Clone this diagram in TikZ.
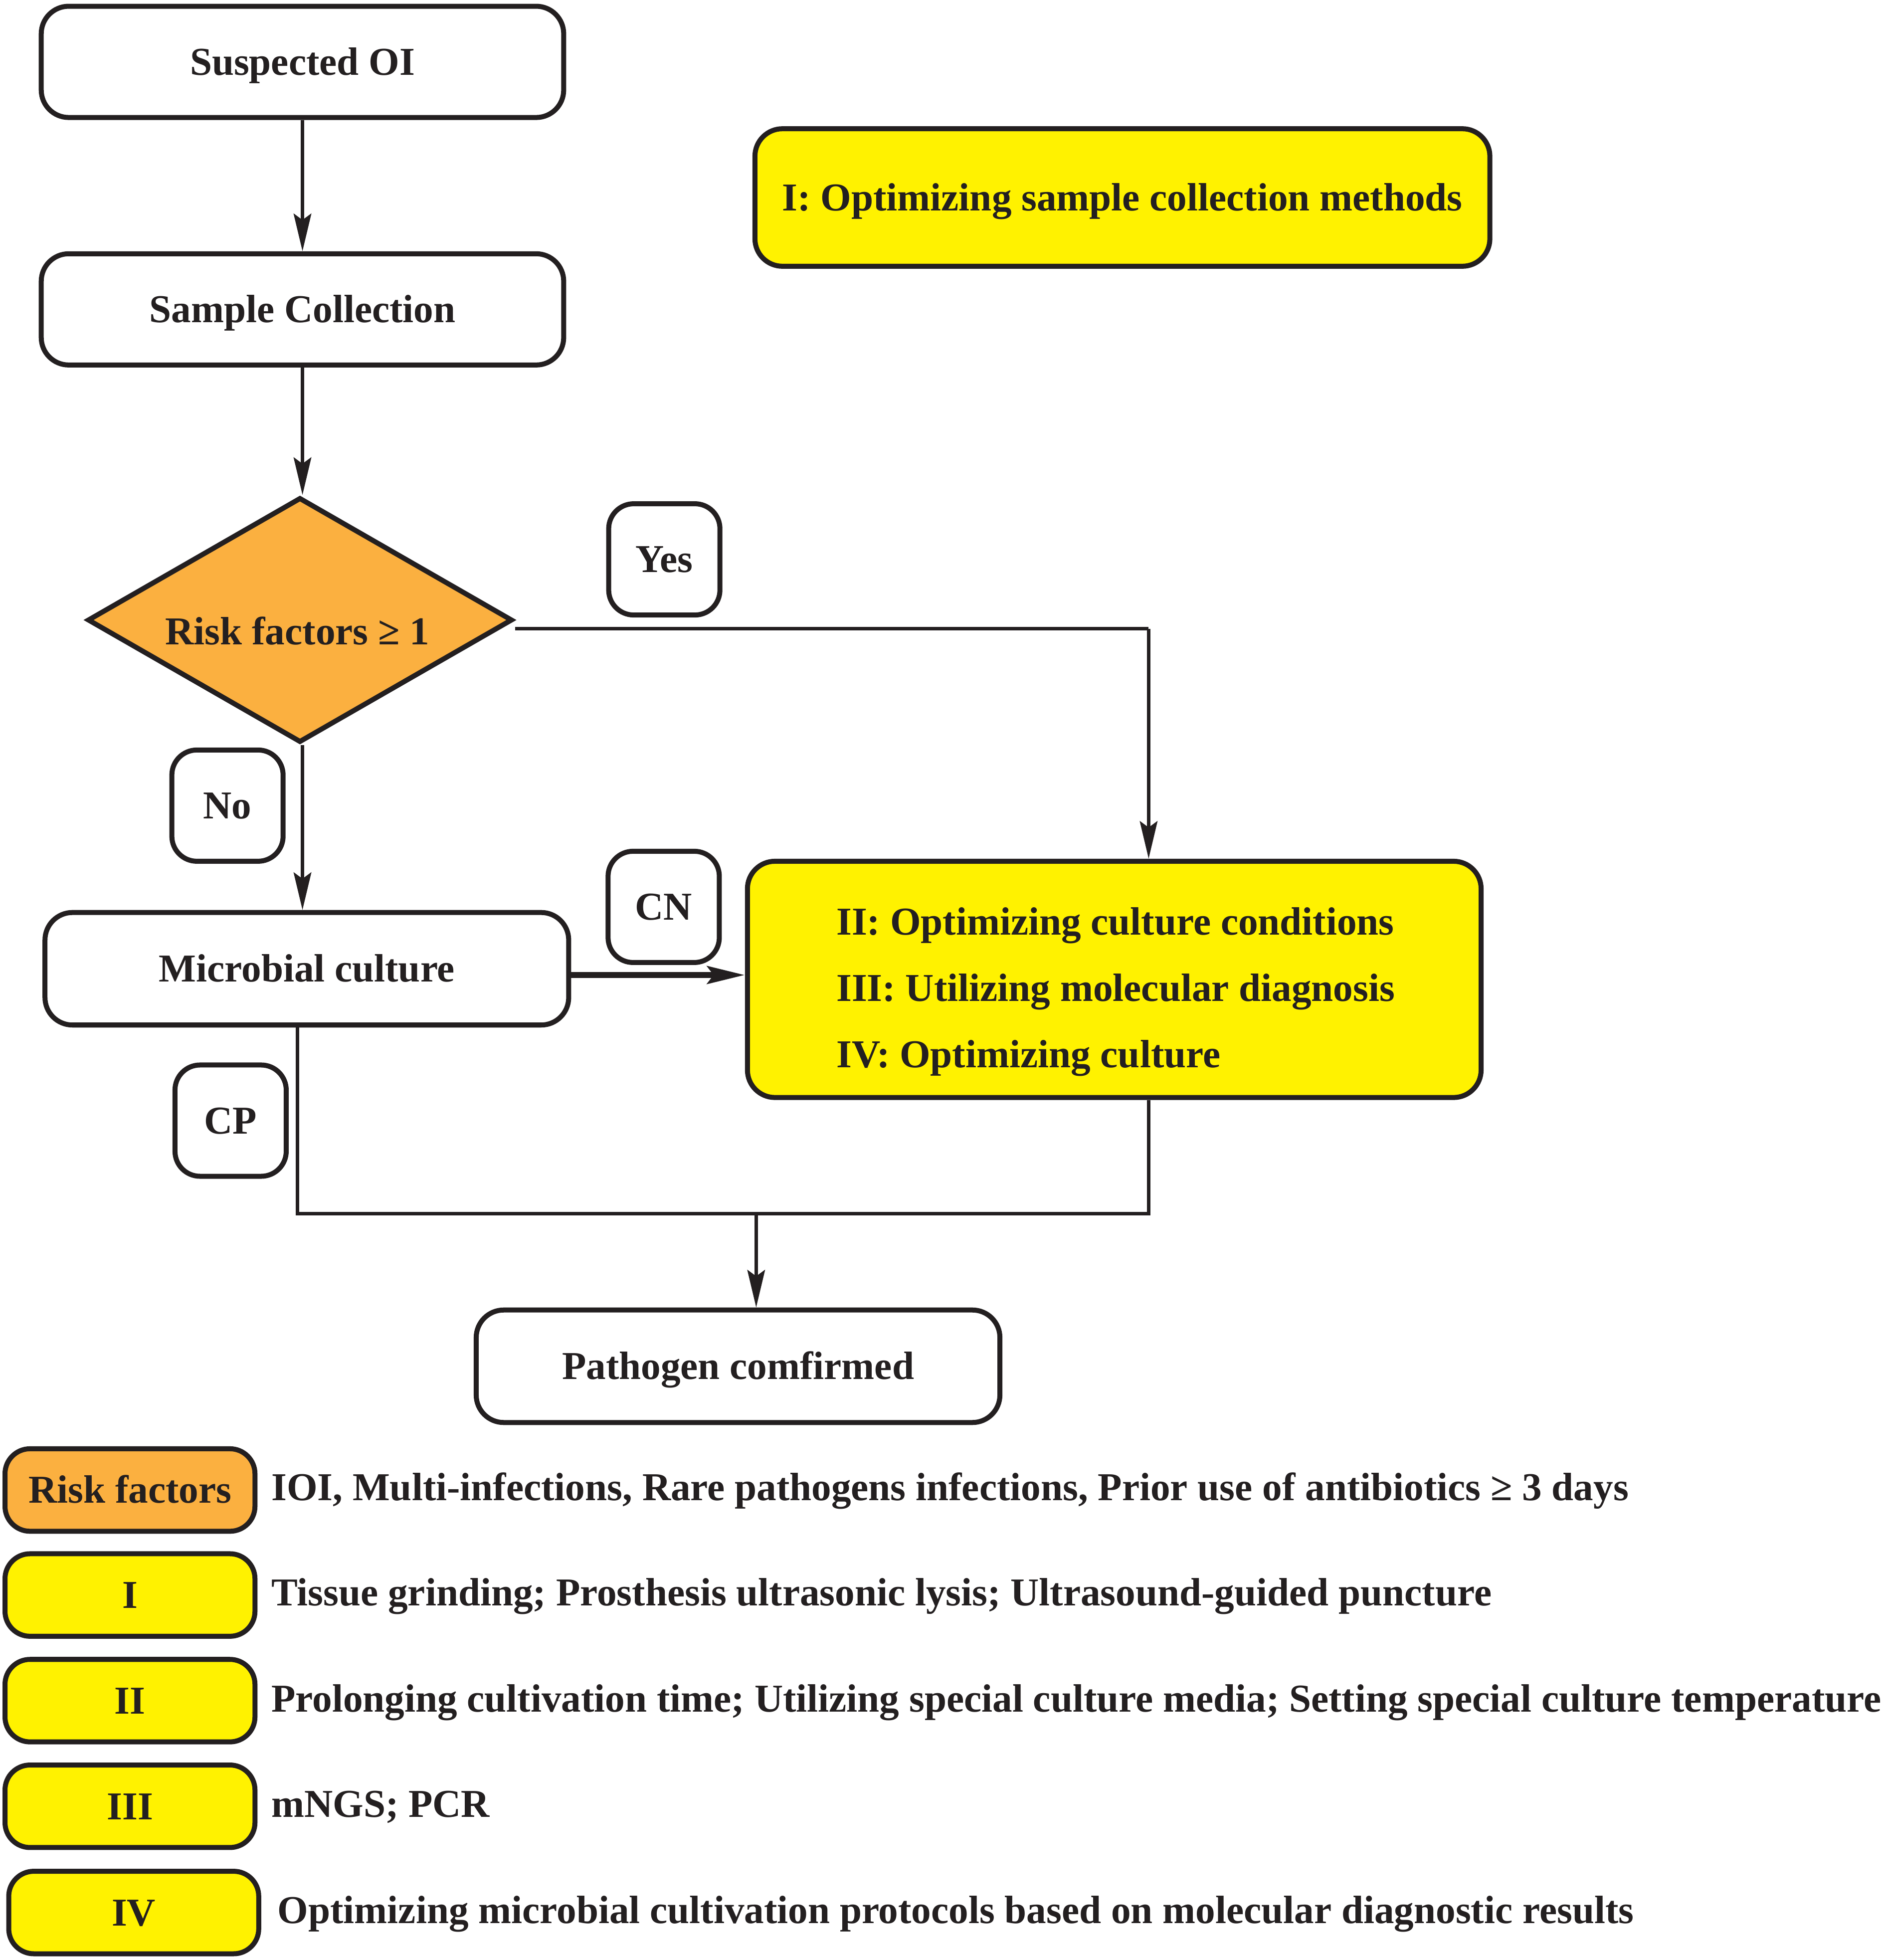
\documentclass[tikz,border=0pt]{standalone}
\usepackage{fontspec}
\setmainfont{Liberation Serif}
\usetikzlibrary{shapes.geometric,arrows.meta}
\definecolor{bord}{HTML}{231F20}
\definecolor{orng}{HTML}{FBB040}
\definecolor{yell}{HTML}{FFF200}
\tikzset{
  fnt/.style={font=\fontsize{31.6}{38}\selectfont\bfseries, text=bord},
  base/.style={draw=bord, line width=4pt, rounded corners=22pt, inner sep=0pt,
    fnt, text height=21pt, text depth=0pt},
  wbox/.style={base, fill=white},
  ybox/.style={base, fill=yell},
  tag/.style={base, fill=white, minimum width=89pt, minimum height=89pt, rounded corners=20pt},
  leg/.style={base, minimum width=200pt, minimum height=66pt, rounded corners=20pt},
  legtxt/.style={anchor=base west, inner sep=0pt, fnt},
  conn/.style={draw=bord, line width=3pt},
  arr/.style={conn, -{Stealth[length=30pt,width=14pt,inset=5pt]}},
}
\begin{document}
\begin{tikzpicture}[x=1pt,y=-1pt]
\useasboundingbox (0,0) rectangle (1508,1568);
% main boxes
\node[wbox, minimum width=418pt, minimum height=89pt] (s1) at (242,49.5) {Suspected OI};
\node[wbox, minimum width=418pt, minimum height=89pt] (s2) at (242,247.5) {Sample Collection};
\node[draw=bord, line width=4pt, fill=orng, shape=diamond, minimum width=340pt, minimum height=196pt,
      inner sep=0pt] (risk) at (240,496) {};
\node[inner sep=0pt, fnt, text height=21pt, text depth=0pt] (risktxt) at (238,505) {Risk factors ≥ 1};
\node[ybox, minimum width=588pt, minimum height=110pt] (y1) at (898,158) {I: Optimizing sample collection methods};
\node[tag] (yes) at (531.5,447.5) {Yes};
\node[tag] (no) at (182,644.5) {No};
\node[wbox, minimum width=419pt, minimum height=90pt] (micro) at (245.5,775) {Microbial culture};
\node[tag] (cn) at (531,725.5) {CN};
\node[ybox, minimum width=587pt, minimum height=189pt] (y2) at (891.5,783.5) {};
\node[legtxt] (y2a) at (669,748) {II: Optimizing culture conditions};
\node[legtxt] (y2b) at (669,801) {III: Utilizing molecular diagnosis};
\node[legtxt] (y2c) at (669,854) {IV: Optimizing culture};
\node[tag] (cp) at (184.5,896.5) {CP};
\node[wbox, minimum width=419pt, minimum height=90pt] (path) at (590.5,1093) {Pathogen comfirmed};
% connectors
\draw[arr] (s1.south) -- (s2.north);
\draw[arr] (s2.south) -- (s2.south |- risk.north);
\coordinate (yc) at (919,503);
\draw[conn] (risk.east |- yc) -- (yc);
\draw[arr] (yc) -- (yc |- y2.north);
\draw[arr] (s2.south |- risk.south) -- (s2.south |- micro.north);
\coordinate (ce) at (455,780);
\draw[arr, line width=5pt] (ce) -- (y2.west |- ce);
\coordinate (m1) at (238,971);
\coordinate (m2) at (919,971);
\coordinate (m3) at (605,971);
\draw[conn] (m1 |- micro.south) -- (m1) -- (m2) -- (m2 |- y2.south);
\draw[arr] (m3) -- (m3 |- path.north);
% legend
\node[leg, fill=orng] (l0) at (104,1192) {Risk factors};
\node[leg, fill=yell] (l1) at (104,1276) {I};
\node[leg, fill=yell] (l2) at (104,1360.5) {II};
\node[leg, fill=yell] (l3) at (104,1445) {III};
\node[leg, fill=yell] (l4) at (107,1530) {IV};
\node[legtxt] (t0) at (217,1200.5) {IOI, Multi-infections, Rare pathogens infections, Prior use of antibiotics ≥ 3 days};
\node[legtxt] (t1) at (217,1284.5) {Tissue grinding; Prosthesis ultrasonic lysis; Ultrasound-guided puncture};
\node[legtxt] (t2) at (217,1369.5) {Prolonging cultivation time; Utilizing special culture media; Setting special culture temperature};
\node[legtxt] (t3) at (217,1453.5) {mNGS; PCR};
\node[legtxt] (t4) at (222,1538.5) {Optimizing microbial cultivation protocols based on molecular diagnostic results};
\end{tikzpicture}
\end{document}
